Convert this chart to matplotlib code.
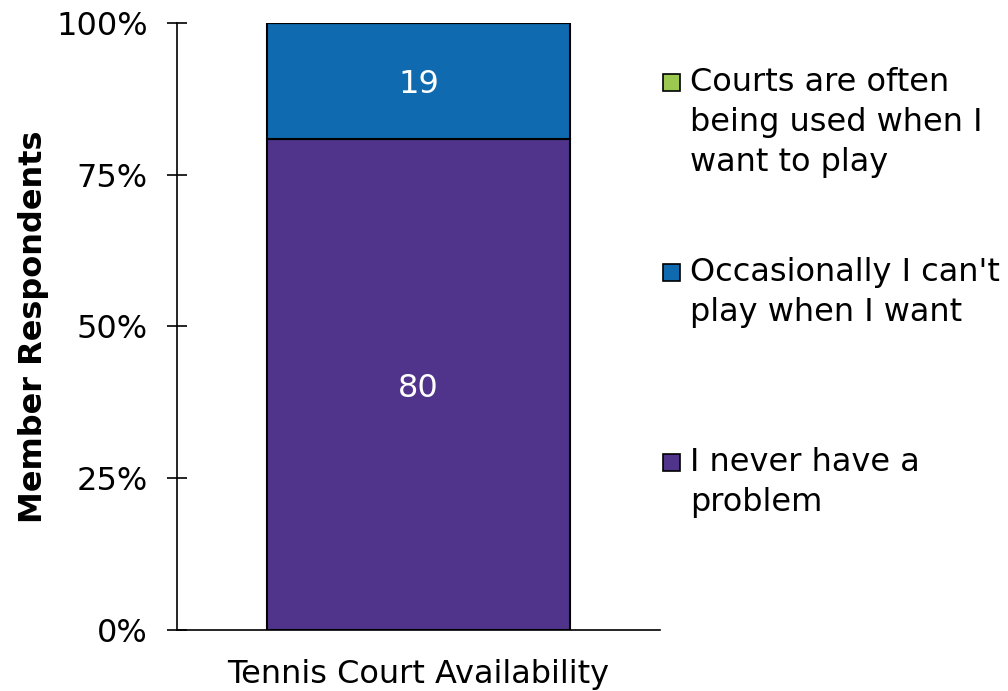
import matplotlib
matplotlib.use("Agg")
import matplotlib.pyplot as plt
from matplotlib.patches import Rectangle

# data
category = "Tennis Court Availability"
series_names = ["I never have a\nproblem",
                "Occasionally I can't\nplay when I want",
                "Courts are often\nbeing used when I\nwant to play"]
series_counts = [80, 19, 0]
series_colors = ["#50348C", "#0F6AAF", "#9BC950"]
y_ticks = [0, 25, 50, 75, 100]
y_tick_labels = ["0%", "25%", "50%", "75%", "100%"]

plt.rcParams['font.family'] = ['DejaVu Sans']
fs = 23

fig = plt.figure(figsize=(10.08, 6.91), dpi=100)
ax = fig.add_axes([177 / 1008, 61 / 691, 483 / 1008, 607 / 691])

total = sum(series_counts)
bottom = 0
for name, n, c in zip(series_names, series_counts, series_colors):
    pct = n / total * 100
    ax.bar(0.5, pct, width=0.627, bottom=bottom, color=c,
           edgecolor="black", linewidth=1.5)
    if n > 0:
        ax.text(0.5, bottom + pct / 2, str(n), ha="center", va="center_baseline",
                color="white", fontsize=fs)
    bottom += pct

ax.set_xlim(0, 1)
ax.set_ylim(0, 100)
ax.set_yticks(y_ticks)
ax.set_yticklabels(y_tick_labels, fontsize=fs)
ax.set_xticks([0.5])
ax.set_xticklabels([category], fontsize=fs)
ax.tick_params(axis="x", length=0, pad=21)
ax.tick_params(axis="y", direction="inout", length=14, width=1.2, pad=14)
for s in ["top", "right"]:
    ax.spines[s].set_visible(False)
for s in ["left", "bottom"]:
    ax.spines[s].set_linewidth(1.2)
ax.set_ylabel("Member Respondents", fontsize=fs, fontweight="bold", labelpad=5)

# legend, top entry first
leg_y = [82, 272, 462]
for name, c, y in zip(series_names[::-1], series_colors[::-1], leg_y):
    fig.patches.append(Rectangle((663 / 1008, 1 - (y + 9) / 691), 17 / 1008, 17 / 691,
                                 transform=fig.transFigure, facecolor=c,
                                 edgecolor="black", linewidth=1.2))
    fig.text(690 / 1008, 1 - (y - 15) / 691, name, fontsize=fs, va="top",
             ha="left", linespacing=1.37)

fig.savefig("out.png", dpi=100)
